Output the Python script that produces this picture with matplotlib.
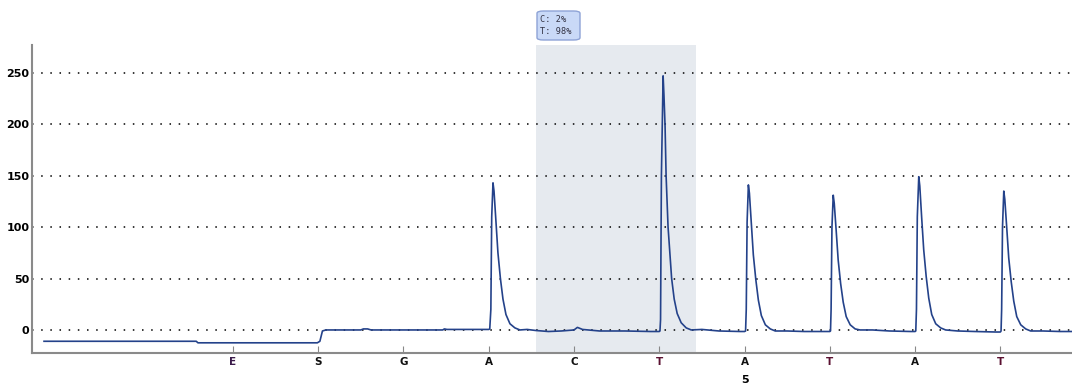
import numpy as np
import matplotlib
matplotlib.use('Agg')
import matplotlib.pyplot as plt
from matplotlib.patches import FancyBboxPatch

# dispensation order (tick positions 1..10)
bases = ['E', 'S', 'G', 'A', 'C', 'T', 'A', 'T', 'A', 'T']
base_colors = ['#3a1a4a', '#111111', '#111111', '#111111', '#111111',
               '#5a1030', '#111111', '#5a1030', '#111111', '#5a1030']
y_ticks = [0, 50, 100, 150, 200, 250]

# analysed position window and allele result
window = (4.55, 6.43)
result_text = 'C: 2%\nT: 98%'

# pyrogram trace, x in dispensation units, y in signal units
trace_x = [-1.215, 0.57, 0.59, 1.5, 1.99, 2.02, 2.05, 2.09, 2.5, 2.53, 2.58, 2.62, 3.0,
           3.46, 3.48, 3.51, 4.0,
           # A
           4.012, 4.025, 4.035, 4.050, 4.062, 4.085, 4.108, 4.137, 4.167, 4.202, 4.249, 4.307, 4.366,
           4.45, 4.55, 4.7, 4.85, 5.0, 5.04, 5.1, 5.3, 5.6, 5.9, 6.0,
           # T
           6.008, 6.015, 6.025, 6.045, 6.055, 6.068, 6.080, 6.103, 6.145, 6.175, 6.21, 6.257, 6.316, 6.375,
           6.5, 6.7, 6.95, 7.0,
           # A
           7.012, 7.02, 7.03, 7.045, 7.057, 7.08, 7.103, 7.132, 7.162, 7.197, 7.244, 7.302, 7.36,
           7.5, 7.7, 7.95, 8.0,
           # T
           8.008, 8.015, 8.025, 8.040, 8.052, 8.075, 8.098, 8.127, 8.157, 8.192, 8.239, 8.297, 8.355,
           8.5, 8.7, 8.95, 9.0,
           # A
           9.008, 9.016, 9.026, 9.043, 9.055, 9.078, 9.101, 9.130, 9.160, 9.195, 9.242, 9.300, 9.358,
           9.5, 9.7, 9.95, 10.0,
           # T
           10.008, 10.015, 10.025, 10.040, 10.052, 10.075, 10.098, 10.127, 10.157, 10.192, 10.239, 10.297, 10.355,
           10.5, 10.7, 10.84]
trace_y = [-11, -11, -12.5, -12.5, -12.5, -11, -1, 0, 0, 1, 1, 0, 0,
           0, 1, 0.5, 0.5,
           1, 20, 110, 143, 135, 105, 75, 50, 30, 15, 6, 2, 0,
           0.5, -0.5, -1.5, -1, 0, 2.5, 0.5, -1, -1, -1.5, -1.5,
           -1, 10, 150, 247, 228, 198, 150, 100, 50, 30, 16, 7, 2, 0,
           0.5, -1, -1.5, -1.5,
           -1, 20, 105, 141, 133, 103, 73, 49, 29, 14, 5, 1, -1,
           -1, -1.5, -1.5, -1.5,
           -1, 20, 100, 131, 123, 96, 68, 45, 27, 13, 5, 1, 0,
           0, -1, -1.5, -1.5,
           -1, 20, 110, 149, 140, 108, 78, 52, 31, 15, 6, 2, 0,
           -1, -1.5, -2, -2,
           -1, 20, 100, 135, 127, 99, 70, 47, 28, 13, 5, 1, -1,
           -1, -1.5, -1.5]

fig = plt.figure(figsize=(10.72, 3.85), dpi=100)
ax = fig.add_axes([32 / 1072, 32 / 385, 1040 / 1072, 308 / 385])

ax.axvspan(window[0], window[1], color='#e6eaef', zorder=0, lw=0)
for v in y_ticks:
    ax.axhline(v, color='black', lw=1.1, linestyle=(0, (1, 5)), zorder=1)
ax.plot(trace_x, trace_y, color='#24428a', lw=1.2, zorder=3)

ax.set_xlim(-1.356, 10.84)
ax.set_ylim(-22.4, 277)
ax.set_yticks(y_ticks)
ax.set_yticklabels([str(v) for v in y_ticks], fontsize=8, fontweight='bold')
positions = np.arange(1, len(bases) + 1)
ax.set_xticks(positions)
ax.set_xticklabels(bases, fontsize=7.5, fontweight='bold')
for lab, c in zip(ax.get_xticklabels(), base_colors):
    lab.set_color(c)
ax.tick_params(axis='x', direction='in', length=5, color='#888888', pad=3)
ax.tick_params(axis='y', length=0, pad=2)

for s in ['top', 'right']:
    ax.spines[s].set_visible(False)
for s in ['left', 'bottom']:
    ax.spines[s].set_color('#8a8a8a')
    ax.spines[s].set_linewidth(1.5)

# position number under the 7th dispensation
ax.text(7, -27 / 308, '5', transform=ax.get_xaxis_transform(), ha='center', va='center',
        fontsize=8, fontweight='bold')

# result box above the window
box = FancyBboxPatch((537 / 1072, 1 - 40 / 385), 43 / 1072, 29 / 385,
                     boxstyle='round,pad=0,rounding_size=0.006',
                     transform=fig.transFigure, facecolor='#c9d9f7', edgecolor='#8ea3d6', lw=1)
fig.patches.append(box)
fig.text(540 / 1072, 1 - 25.5 / 385, result_text, ha='left', va='center',
         family='DejaVu Sans Mono', fontsize=6.2, color='#333344', linespacing=1.3)

fig.savefig('out.png', dpi=100)
